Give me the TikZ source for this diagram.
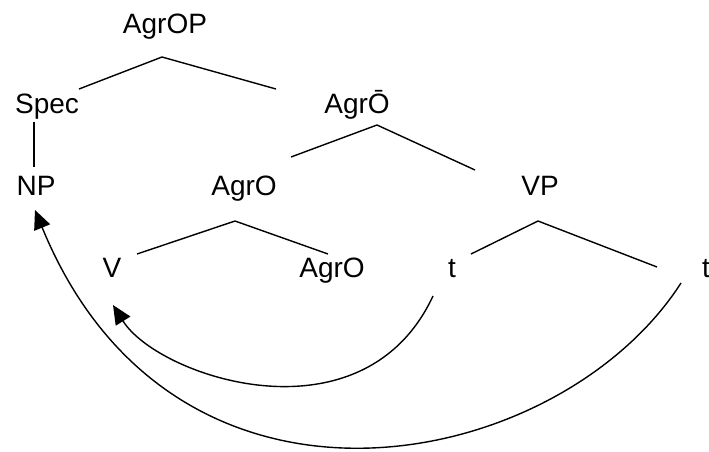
\documentclass[tikz,border=0pt]{standalone}
\usepackage{fontspec}
\setmainfont{Liberation Sans}
\usetikzlibrary{arrows.meta, calc}

\begin{document}
\begin{tikzpicture}[x=1pt, y=-1pt,
    lbl/.style={anchor=base, inner sep=0pt, font=\fontsize{28}{32}\selectfont},
    branch/.style={draw=black, line width=1.4pt},
    move/.style={-{Triangle[length=19pt, width=17pt]}, line width=1.4pt}
  ]
  \useasboundingbox (0,0) rectangle (709,451);

  \node[lbl] (agrop)   at (165,33)  {AgrOP};
  \node[lbl] (spec)    at (47,113)  {Spec};
  \node[lbl] (agrobar) at (357,113) {AgrŌ};
  \node[lbl] (np)      at (36,195)  {NP};
  \node[lbl] (agro)    at (244,195) {AgrO};
  \node[lbl] (vp)      at (540,195) {VP};
  \node[lbl] (v)       at (112,277) {V};
  \node[lbl] (agrohead) at (332,277) {AgrO};
  \node[lbl] (tl)      at (452,277) {t};
  \node[lbl] (tr)      at (706,277) {t};

  % branches: parent/offset/child/offset
  \foreach \pa/\po/\ch/\co in {agrop/{-3,24}/spec/{32,-24},
                               agrop/{-3,24}/agrobar/{-81,-24},
                               agrobar/{20,12}/agro/{47,-38},
                               agrobar/{20,12}/vp/{-65,-25},
                               agro/{-9,26}/v/{25,-23},
                               agro/{-9,26}/agrohead/{-4,-23},
                               vp/{-2,26}/tl/{19,-23},
                               vp/{-2,26}/tr/{-49,-10},
                               spec/{-13,9}/np/{-2,-28}} {
    \draw[branch] ($(\pa.base)+(\po)$) -- ($(\ch.base)+(\co)$);
  }

  % movement arrows
  \draw[move] ($(tl.base)+(-19,19)$) .. controls +(-70,150) and +(45,72)
              .. ($(v.base)+(1,28)$);
  \draw[move] ($(tr.base)+(-25,6)$) .. controls +(-122,190) and +(140,342)
              .. ($(np.base)+(-1,15)$);
\end{tikzpicture}
\end{document}
